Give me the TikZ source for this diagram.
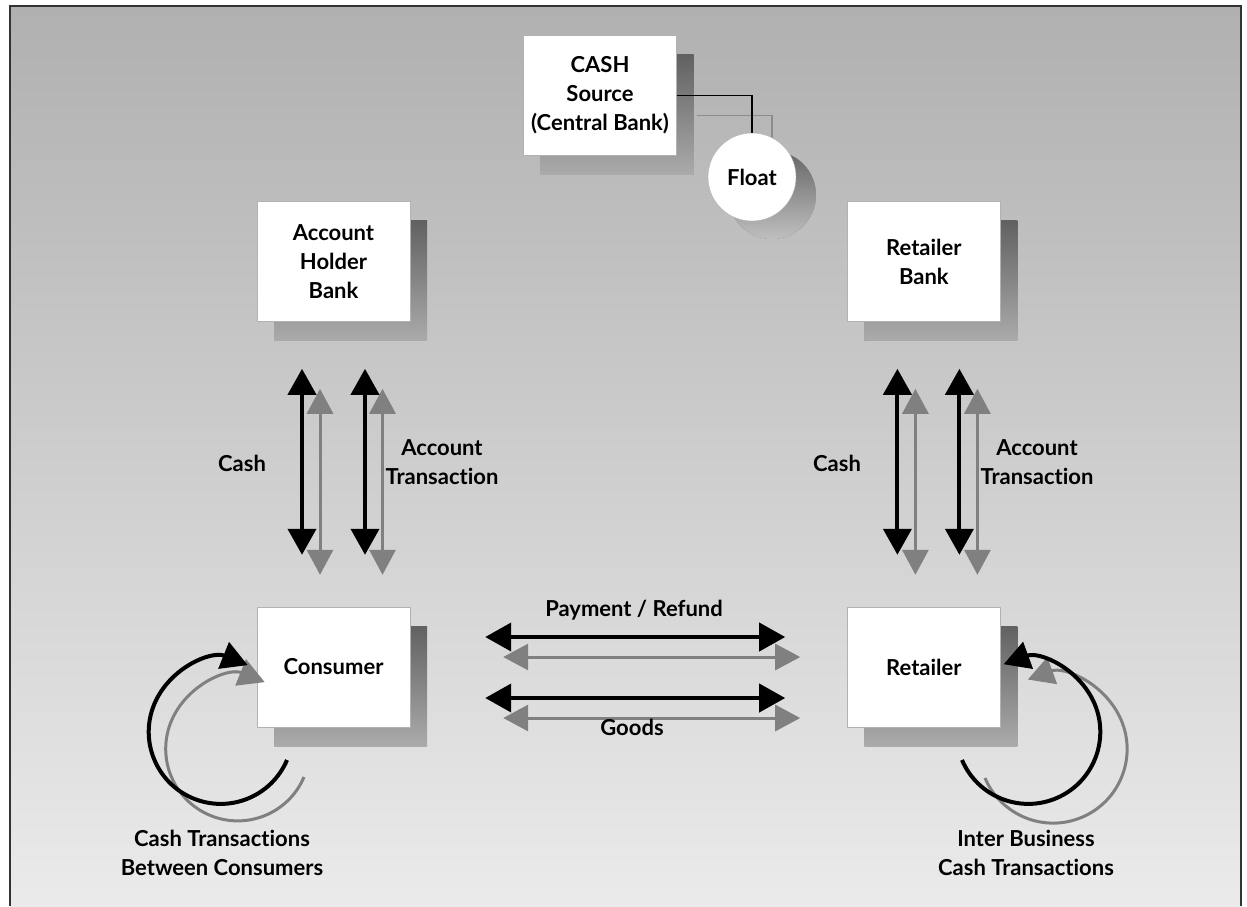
\documentclass[tikz,border=0pt]{standalone}
\usepackage{fontspec}
\setmainfont{Lato}[Ligatures=NoCommon]
\usetikzlibrary{positioning}
\usetikzlibrary{shadows}
\usetikzlibrary{arrows.meta}
\pgfdeclarelayer{background}
\pgfsetlayers{background,main}

\begin{document}
\begin{tikzpicture}[x=1pt, y=-1pt,
    every node/.style={font=\fontsize{22}{29}\selectfont\bfseries, align=center, text=black},
    box/.style={draw=black!30, fill=white, minimum width=153pt, minimum height=120pt, inner sep=0pt,
        drop shadow={shadow xshift=17pt, shadow yshift=-19pt, top color=black!62, bottom color=black!33, opacity=1}},
    floatbox/.style={circle, draw=black!30, fill=white, minimum size=88pt, inner sep=0pt,
        drop shadow={shadow xshift=20pt, shadow yshift=-18pt, top color=black!60, bottom color=black!25, opacity=1}},
    blk/.style={draw=black, line width=4pt, {Triangle[length=26pt, width=28pt]}-{Triangle[length=26pt, width=28pt]}},
    gry/.style={draw=black!50, line width=3pt, {Triangle[length=25pt, width=26pt]}-{Triangle[length=25pt, width=26pt]}},
    tip/.style={-{Triangle[length=26pt, width=28pt]}}]
        \useasboundingbox (0,0) rectangle (1247,906);

        \node[box] (cash) at (600,95.5) {CASH\\Source\\(Central Bank)};
        \node[floatbox] (float) at (752,177) {Float};

        \node[box] (con) at (333.5,667) {Consumer};
        \node[box, right=437pt of con] (ret) {Retailer};
        \node[box, above=285pt of con] (ahb) {Account\\Holder\\Bank};
        \node[box, above=285pt of ret] (rbank) {Retailer\\Bank};

        \draw[line width=1.5pt] (cash.east) -| (float.north);

        % banks <-> consumer / retailer
        \draw[gry] ([xshift=-13.5pt, yshift=-67pt]ahb.south) -- ([xshift=-13.5pt, yshift=32pt]con.north);
        \draw[gry] ([xshift=49pt, yshift=-67pt]ahb.south) -- ([xshift=49pt, yshift=32pt]con.north);
        \draw[blk] ([xshift=-31.5pt, yshift=-47pt]ahb.south) -- ([xshift=-31.5pt, yshift=52pt]con.north);
        \draw[blk] ([xshift=31.5pt, yshift=-47pt]ahb.south) -- ([xshift=31.5pt, yshift=52pt]con.north);

        \draw[gry] ([xshift=-8.5pt, yshift=-67pt]rbank.south) -- ([xshift=-8.5pt, yshift=32pt]ret.north);
        \draw[gry] ([xshift=53.5pt, yshift=-67pt]rbank.south) -- ([xshift=53.5pt, yshift=32pt]ret.north);
        \draw[blk] ([xshift=-26.5pt, yshift=-47pt]rbank.south) -- ([xshift=-26.5pt, yshift=52pt]ret.north);
        \draw[blk] ([xshift=35.5pt, yshift=-47pt]rbank.south) -- ([xshift=35.5pt, yshift=52pt]ret.north);

        % consumer <-> retailer
        \draw[gry] ([xshift=93pt, yshift=10pt]con.east) -- ([xshift=-47pt, yshift=10pt]ret.west);
        \draw[blk] ([xshift=75pt, yshift=30pt]con.east) -- ([xshift=-62pt, yshift=30pt]ret.west);
        \draw[gry] ([xshift=93pt, yshift=-51pt]con.east) -- ([xshift=-47pt, yshift=-51pt]ret.west);
        \draw[blk] ([xshift=75pt, yshift=-31pt]con.east) -- ([xshift=-62pt, yshift=-31pt]ret.west);

        % loops
        \coordinate (con loop) at (287,760);
        \coordinate (con loop shadow) at (304,777);
        \coordinate (ret loop) at (962,760);
        \coordinate (ret loop shadow) at (985,778);
        \draw[draw=black!50, line width=3pt, tip] (con loop shadow) arc[start angle=-23, end angle=-292, radius=72pt];
        \draw[line width=4pt, tip] (con loop) arc[start angle=-23, end angle=-292, radius=72pt];
        \draw[draw=black!50, line width=3pt, tip] (ret loop shadow) arc[start angle=203, end angle=470, radius=74pt];
        \draw[line width=4pt, tip] (ret loop) arc[start angle=203, end angle=470, radius=72pt];

        \node (cash left) at (242,463) {Cash};
        \node (acct left) at (442,462) {Account\\Transaction};
        \node (cash right) at (837,463) {Cash};
        \node (acct right) at (1037,462) {Account\\Transaction};
        \node (payment) at (634,610) {Payment / Refund};
        \node (goods) at (632,727) {Goods};
        \node (con loop label) at (222,853) {Cash Transactions\\Between Consumers};
        \node (ret loop label) at (1026,853) {Inter Business\\Cash Transactions};

        \begin{pgfonlayer}{background}
            \fill[white] (0,0) rectangle (1247,906);
            \fill[top color=black!31, middle color=black!21, bottom color=black!8] (10,6) rectangle (1241,906);
            \draw[black!80, line width=1.5pt] (10,906) -- (10,6) -- (1241,6) -- (1241,906);
            \draw[black!45, line width=1.5pt] ([xshift=20pt, yshift=-20pt]cash.east) -| ([xshift=20pt, yshift=-20pt]float.north);
        \end{pgfonlayer}
    \end{tikzpicture}
\end{document}
